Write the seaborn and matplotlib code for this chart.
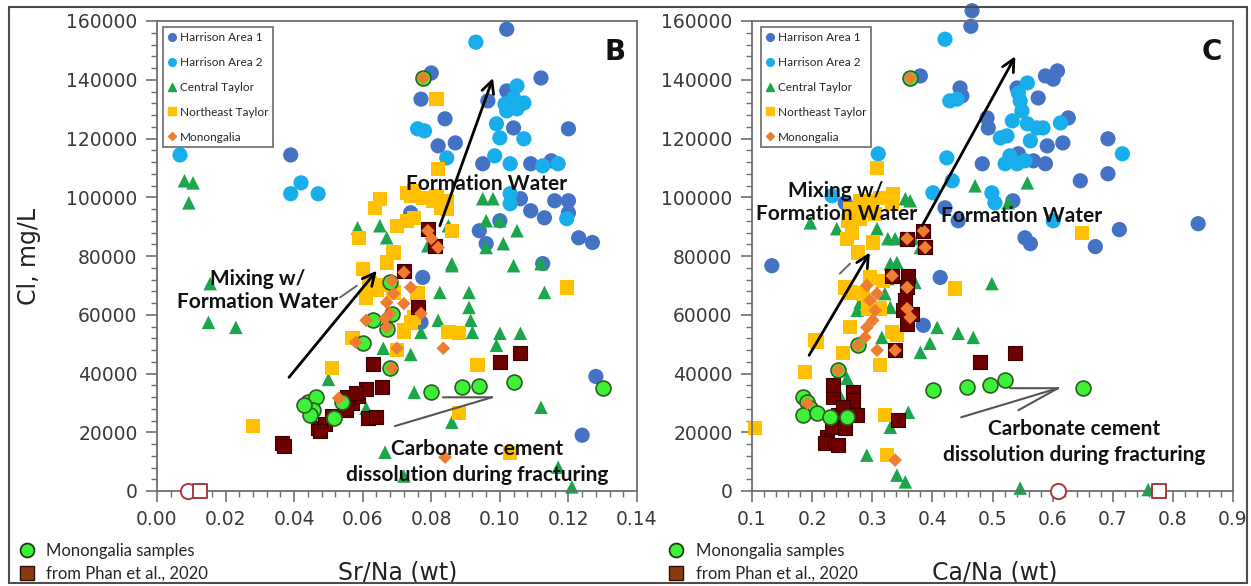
import matplotlib
matplotlib.use("Agg")
import matplotlib.pyplot as plt
from matplotlib.lines import Line2D
from matplotlib.patches import Rectangle
from matplotlib.ticker import MultipleLocator, FormatStrFormatter
from matplotlib.font_manager import FontProperties
import pandas as pd
import seaborn as sns

sns.set_theme(style="white")
plt.rcParams["font.family"] = ["DejaVu Sans"]

# ---------------- Panel B: Sr/Na (wt) vs Cl (mg/L) ----------------
srna_harrison1 = [(0.039, 114400), (0.102, 157200), (0.080, 142300), (0.077, 133400), (0.084, 126700),
                  (0.082, 117500), (0.087, 118500), (0.095, 111400), (0.104, 123600), (0.102, 136200),
                  (0.112, 140600), (0.120, 123300), (0.0965, 132800), (0.109, 111400), (0.115, 112400),
                  (0.106, 99500), (0.109, 95400), (0.113, 93000), (0.116, 98800), (0.120, 98800),
                  (0.120, 94700), (0.123, 86200), (0.127, 84600), (0.094, 88600), (0.096, 84200),
                  (0.100, 92000), (0.1125, 77400), (0.0775, 72700), (0.128, 39000), (0.124, 19000),
                  (0.077, 57400), (0.074, 94700)]
srna_harrison2 = [(0.0067, 114400), (0.039, 101200), (0.042, 104900), (0.047, 101200), (0.093, 152800),
                  (0.105, 137900), (0.104, 133800), (0.107, 132100), (0.1015, 131700), (0.102, 129400),
                  (0.105, 130100), (0.099, 125000), (0.100, 120200), (0.0985, 114100), (0.103, 111400),
                  (0.107, 119900), (0.1125, 110700), (0.117, 111400), (0.103, 101200), (0.103, 97800),
                  (0.1195, 92700), (0.076, 123300), (0.078, 122600), (0.0845, 113400)]
srna_central_taylor = [(0.008, 105600), (0.0105, 104900), (0.0093, 98100), (0.0155, 70600), (0.015, 57400),
                       (0.023, 55700), (0.095, 99500), (0.098, 99500), (0.096, 92000), (0.100, 92000),
                       (0.105, 88600), (0.096, 82900), (0.101, 84200), (0.086, 77400), (0.104, 76700),
                       (0.112, 77400), (0.0825, 67600), (0.091, 67600), (0.113, 67600), (0.065, 90300),
                       (0.067, 86200), (0.0585, 89600), (0.079, 83500), (0.085, 90300), (0.086, 76700),
                       (0.091, 62500), (0.0915, 58100), (0.092, 54000), (0.082, 58100), (0.077, 54000),
                       (0.074, 46500), (0.066, 48600), (0.061, 28200), (0.050, 38000), (0.075, 33600),
                       (0.086, 23400), (0.100, 53700), (0.099, 49600), (0.106, 53700), (0.112, 28500),
                       (0.0665, 13200), (0.072, 5100), (0.117, 8100), (0.121, 1400)]
srna_ne_taylor = [(0.028, 22100), (0.0815, 133400), (0.082, 109700), (0.073, 101500), (0.075, 102200),
                  (0.065, 99500), (0.0635, 96400), (0.0845, 98800), (0.0845, 96100), (0.0805, 98800),
                  (0.070, 90300), (0.073, 92000), (0.075, 93000), (0.059, 86200), (0.086, 88600),
                  (0.069, 81200), (0.067, 77800), (0.060, 75700), (0.1195, 69300), (0.062, 70600),
                  (0.061, 65900), (0.064, 68300), (0.074, 100500), (0.0775, 99800), (0.0815, 100500),
                  (0.083, 96400), (0.076, 67200), (0.072, 54000), (0.075, 59100), (0.085, 54000),
                  (0.088, 53700), (0.057, 52000), (0.051, 41800), (0.070, 47900), (0.072, 54700),
                  (0.074, 57400), (0.0935, 42800), (0.088, 26500), (0.103, 12900), (0.065, 70000),
                  (0.069, 67600)]
srna_phan = [(0.0365, 16300), (0.037, 15300), (0.047, 21400), (0.049, 22800), (0.051, 25500),
             (0.055, 27500), (0.057, 29900), (0.0585, 32300), (0.061, 34600), (0.0655, 35300),
             (0.0555, 31900), (0.058, 33300), (0.055, 28200), (0.0615, 24800), (0.064, 25100),
             (0.063, 43100), (0.0475, 20400), (0.100, 43800), (0.106, 46900), (0.079, 89300),
             (0.081, 83500), (0.072, 75000), (0.076, 62500)]
srna_mon_samples = [(0.044, 30200), (0.0465, 31900), (0.0455, 27500), (0.0445, 25800), (0.043, 29200),
                    (0.0515, 24800), (0.054, 30200), (0.060, 50300), (0.063, 58100), (0.067, 55300),
                    (0.068, 41800), (0.0685, 60400), (0.068, 71000), (0.080, 33600), (0.089, 35300),
                    (0.094, 35700), (0.104, 37000), (0.130, 35000), (0.0776, 140600)]
srna_monongalia = [(0.0776, 140600), (0.079, 88600), (0.080, 85900), (0.082, 82900), (0.072, 74400),
                   (0.0685, 71600), (0.074, 69300), (0.069, 67200), (0.067, 64200), (0.072, 63800),
                   (0.077, 60400), (0.061, 58100), (0.0665, 58700), (0.068, 60400), (0.067, 55700),
                   (0.058, 50600), (0.070, 48600), (0.0685, 41800), (0.0835, 48600), (0.053, 31600),
                   (0.084, 11500)]
srna_open_circle = [(0.009, 0)]
srna_open_square = [(0.0125, 0)]

# ---------------- Panel C: Ca/Na (wt) vs Cl (mg/L) ----------------
cana_harrison1 = [(0.466, 163500), (0.464, 158200), (0.446, 137200), (0.449, 134500), (0.491, 127000),
                  (0.493, 123600), (0.541, 137200), (0.588, 141300), (0.608, 143000), (0.601, 140200),
                  (0.576, 133800), (0.626, 127000), (0.617, 118500), (0.591, 117500), (0.692, 119900),
                  (0.483, 111400), (0.568, 112400), (0.588, 111400), (0.543, 114800), (0.646, 105600),
                  (0.692, 108000), (0.711, 89000), (0.671, 83200), (0.554, 86200), (0.563, 84200),
                  (0.842, 91000), (0.421, 96400), (0.443, 92000), (0.413, 72700), (0.534, 98800),
                  (0.380, 141300), (0.133, 76700), (0.385, 56400), (0.255, 98100)]
cana_harrison2 = [(0.421, 153800), (0.429, 132800), (0.310, 114800), (0.233, 100500), (0.401, 101500),
                  (0.424, 113400), (0.433, 105600), (0.441, 133400), (0.558, 138900), (0.543, 135500),
                  (0.546, 132800), (0.549, 129400), (0.533, 126000), (0.558, 125000), (0.574, 123600),
                  (0.584, 123600), (0.613, 125300), (0.513, 120200), (0.524, 120900), (0.529, 114100),
                  (0.521, 111400), (0.541, 111400), (0.554, 112400), (0.716, 114800), (0.499, 101500),
                  (0.504, 98100), (0.601, 92000), (0.563, 119200)]
cana_central_taylor = [(0.471, 103900), (0.558, 104900), (0.526, 98100), (0.499, 70600), (0.197, 91300),
                       (0.355, 99500), (0.363, 98800), (0.241, 89300), (0.308, 89300), (0.326, 85900),
                       (0.338, 85900), (0.350, 86200), (0.368, 85900), (0.380, 82900), (0.330, 77400),
                       (0.341, 77800), (0.326, 72300), (0.371, 71000), (0.360, 72700), (0.408, 55700),
                       (0.396, 50300), (0.380, 47200), (0.291, 12200), (0.341, 5400), (0.355, 3100),
                       (0.360, 26800), (0.330, 21700), (0.258, 38400), (0.246, 32600), (0.241, 26500),
                       (0.316, 52300), (0.280, 64200), (0.275, 61500), (0.443, 53700), (0.468, 52300),
                       (0.546, 1000), (0.759, 500), (0.321, 67200), (0.330, 62500), (0.285, 65900)]
cana_ne_taylor = [(0.308, 110000), (0.280, 98800), (0.296, 98800), (0.313, 99800), (0.335, 101200),
                  (0.333, 97800), (0.293, 97100), (0.263, 96100), (0.285, 95400), (0.305, 94400),
                  (0.260, 92000), (0.280, 92700), (0.266, 87900), (0.301, 84600), (0.258, 85900),
                  (0.276, 81200), (0.255, 69300), (0.263, 67600), (0.296, 72700), (0.318, 71600),
                  (0.285, 67200), (0.205, 51300), (0.333, 54000), (0.341, 53000), (0.313, 62100),
                  (0.188, 40400), (0.208, 50600), (0.251, 46900), (0.263, 55700), (0.313, 42800),
                  (0.321, 25800), (0.325, 12200), (0.105, 21400), (0.649, 87900), (0.438, 68900),
                  (0.293, 62100)]
cana_phan = [(0.235, 31900), (0.268, 33600), (0.275, 25800), (0.268, 30900), (0.243, 25800),
             (0.225, 18300), (0.221, 16300), (0.243, 15600), (0.233, 21700), (0.255, 21400),
             (0.343, 24100), (0.235, 36000), (0.251, 28500), (0.479, 43800), (0.538, 46900),
             (0.358, 85900), (0.385, 88600), (0.388, 82900), (0.333, 73300), (0.360, 73300),
             (0.358, 69300), (0.355, 64900), (0.351, 61500), (0.366, 60400), (0.358, 57000),
             (0.338, 47900)]
cana_mon_samples = [(0.185, 31900), (0.192, 30200), (0.197, 28200), (0.185, 25800), (0.208, 26500),
                    (0.230, 25100), (0.258, 25100), (0.243, 41100), (0.276, 49600), (0.401, 34300),
                    (0.458, 35300), (0.496, 36000), (0.521, 37700), (0.651, 35000), (0.363, 140600)]
cana_monongalia = [(0.363, 140600), (0.358, 85900), (0.385, 88600), (0.388, 82900), (0.333, 73300),
                   (0.358, 69300), (0.291, 70000), (0.308, 67200), (0.305, 61500), (0.301, 58100),
                   (0.291, 55700), (0.288, 52300), (0.358, 62100), (0.363, 59100), (0.276, 49600),
                   (0.308, 47900), (0.338, 47900), (0.192, 29900), (0.243, 41100), (0.338, 10500),
                   (0.296, 64900)]
cana_open_circle = [(0.609, 0)]
cana_open_square = [(0.777, 0)]

region_labels = ["Harrison Area 1", "Harrison Area 2", "Central Taylor", "Northeast Taylor", "Monongalia"]
sample_labels = ["Monongalia samples", "from Phan et al., 2020"]
y_ticks = [0, 20000, 40000, 60000, 80000, 100000, 120000, 140000, 160000]

# marker styling per series
STYLE = {
    "Harrison Area 1": dict(marker="o", color="#4472C4", edgecolor="none", linewidth=0, s=120, z=2),
    "Harrison Area 2": dict(marker="o", color="#17AEEB", edgecolor="none", linewidth=0, s=120, z=2.1),
    "Central Taylor": dict(marker="^", color="#1CA64C", edgecolor="none", linewidth=0, s=95, z=2.2),
    "Northeast Taylor": dict(marker="s", color="#FFC000", edgecolor="none", linewidth=0, s=105, z=2.3),
    "phan": dict(marker="s", color="#6E0000", edgecolor="#3A0000", linewidth=0.8, s=95, z=2.4),
    "samples": dict(marker="o", color="#3DF03A", edgecolor="#2C5F1E", linewidth=1.2, s=115, z=2.5),
    "Monongalia": dict(marker="D", color="#ED7D31", edgecolor="none", linewidth=0, s=48, z=2.6),
    "open_circle": dict(marker="o", color="white", edgecolor="#A83A3A", linewidth=1.4, s=120, z=2.7),
    "open_square": dict(marker="s", color="white", edgecolor="#A83A3A", linewidth=1.4, s=100, z=2.7),
}

ANNOT_FONT = "Lato"


def scatter(ax, pts, key):
    st = STYLE[key]
    df = pd.DataFrame(pts, columns=["x", "y"])
    sns.scatterplot(data=df, x="x", y="y", ax=ax, marker=st["marker"], color=st["color"],
                    edgecolor=st["edgecolor"], linewidth=st["linewidth"], s=st["s"],
                    legend=False, zorder=st["z"], clip_on=False)


def style_axes(ax, xlim, xmajor, xminor, xfmt, letter):
    ax.set_xlim(*xlim)
    ax.set_ylim(0, 160000)
    ax.set_yticks(y_ticks)
    ax.yaxis.set_minor_locator(MultipleLocator(4000))
    ax.xaxis.set_major_locator(MultipleLocator(xmajor))
    ax.xaxis.set_minor_locator(MultipleLocator(xminor))
    ax.xaxis.set_major_formatter(FormatStrFormatter(xfmt))
    ax.yaxis.set_major_formatter(FormatStrFormatter("%d"))
    for sp in ax.spines.values():
        sp.set_visible(True)
        sp.set_color("#6E6E6E")
        sp.set_linewidth(1.3)
    ax.tick_params(which="major", direction="out", length=8, width=1.2, color="#6E6E6E",
                   labelsize=13.5, labelcolor="#3A3A3A", pad=6, bottom=True, left=True)
    ax.tick_params(which="minor", direction="out", length=4.5, width=1.0, color="#6E6E6E",
                   bottom=True, left=True)
    ax.set_xlabel("")
    ax.set_ylabel("")
    ax.text(0.955, 0.935, letter, transform=ax.transAxes, fontsize=20, fontweight="bold",
            ha="center", va="center", color="#111111")


def region_legend(ax, x0):
    handles = [
        Line2D([], [], ls="", marker="o", markersize=5.5, color=STYLE["Harrison Area 1"]["color"]),
        Line2D([], [], ls="", marker="o", markersize=5.5, color=STYLE["Harrison Area 2"]["color"]),
        Line2D([], [], ls="", marker="^", markersize=5.5, color=STYLE["Central Taylor"]["color"]),
        Line2D([], [], ls="", marker="s", markersize=5.5, color=STYLE["Northeast Taylor"]["color"]),
        Line2D([], [], ls="", marker="D", markersize=3.8, color=STYLE["Monongalia"]["color"]),
    ]
    leg = ax.legend(handles, region_labels, loc="upper left", bbox_to_anchor=(x0, 0.987),
                    borderaxespad=0, frameon=True, fancybox=False, framealpha=1,
                    edgecolor="#7F7F7F", prop=FontProperties(family=ANNOT_FONT, size=8.5),
                    handlelength=0.7, handletextpad=0.3, labelspacing=1.18, borderpad=0.4)
    leg.get_frame().set_linewidth(1.4)
    leg.set_zorder(10)


def arrow(ax, start, end, color="black", lw=2.0, head=True):
    ax.annotate("", xy=end, xytext=start,
                arrowprops=dict(arrowstyle="->" if head else "-", color=color, lw=lw,
                                mutation_scale=22, shrinkA=0, shrinkB=0),
                zorder=6)


fig = plt.figure(figsize=(12.51, 5.86), dpi=100)
axB = fig.add_axes([157 / 1251, 1 - 491 / 586, 480 / 1251, 470 / 586])
axC = fig.add_axes([752 / 1251, 1 - 491 / 586, 481 / 1251, 470 / 586])

panels = [
    (axB, dict(h1=srna_harrison1, h2=srna_harrison2, ct=srna_central_taylor, ne=srna_ne_taylor,
               ph=srna_phan, ms=srna_mon_samples, mo=srna_monongalia,
               oc=srna_open_circle, os=srna_open_square)),
    (axC, dict(h1=cana_harrison1, h2=cana_harrison2, ct=cana_central_taylor, ne=cana_ne_taylor,
               ph=cana_phan, ms=cana_mon_samples, mo=cana_monongalia,
               oc=cana_open_circle, os=cana_open_square)),
]
for ax, d in panels:
    scatter(ax, d["h1"], "Harrison Area 1")
    scatter(ax, d["h2"], "Harrison Area 2")
    scatter(ax, d["ct"], "Central Taylor")
    scatter(ax, d["ne"], "Northeast Taylor")
    scatter(ax, d["ph"], "phan")
    scatter(ax, d["ms"], "samples")
    scatter(ax, d["mo"], "Monongalia")
    scatter(ax, d["oc"], "open_circle")
    scatter(ax, d["os"], "open_square")

style_axes(axB, (0, 0.14), 0.02, 0.004, "%.2f", "B")
style_axes(axC, (0.1, 0.9), 0.1, 0.02, "%.1f", "C")
region_legend(axB, 0.0125)
region_legend(axC, 0.019)

# axis titles
axB.set_ylabel("Cl, mg/L", fontsize=17, color="#222222")
axB.yaxis.set_label_coords(-0.267, 0.5)
axB.yaxis.label.set_va("center")
axB.set_xlabel("Sr/Na (wt)", fontsize=17, color="#222222", va="center")
axB.xaxis.set_label_coords(0.502, -0.174)
axC.set_xlabel("Ca/Na (wt)", fontsize=17, color="#222222", va="center")
axC.xaxis.set_label_coords(0.505, -0.174)

# panel B annotations
txt_kw = dict(family=ANNOT_FONT, fontweight="bold", color="#111111", ha="center", va="center", zorder=7)
axB.text(0.0962, 104600, "Formation Water", fontsize=15, **txt_kw)
axB.text(0.0294, 68300, "Mixing w/\nFormation Water", fontsize=15, linespacing=1.2, **txt_kw)
axB.text(0.0933, 9800, "Carbonate cement\ndissolution during fracturing", fontsize=15,
         linespacing=1.4, **txt_kw)
arrow(axB, (0.0385, 38700), (0.0641, 75000))
arrow(axB, (0.0825, 90300), (0.0980, 140600))
arrow(axB, (0.0534, 65900), (0.0583, 69900), color="#666666", lw=1.4, head=False)
arrow(axB, (0.0834, 31900), (0.0977, 31900), color="#555555", lw=1.5, head=False)
arrow(axB, (0.0694, 22100), (0.0977, 31900), color="#555555", lw=1.5, head=False)

# panel C annotations
axC.text(0.549, 93700, "Formation Water", fontsize=15, **txt_kw)
axC.text(0.240, 98100, "Mixing w/\nFormation Water", fontsize=15, linespacing=1.2, **txt_kw)
axC.text(0.636, 16600, "Carbonate cement\ndissolution during fracturing", fontsize=15,
         linespacing=1.4, **txt_kw)
arrow(axC, (0.195, 46200), (0.296, 81200))
arrow(axC, (0.383, 90300), (0.538, 148000))
arrow(axC, (0.246, 74000), (0.263, 77400), color="#666666", lw=1.4, head=False)
arrow(axC, (0.529, 35000), (0.609, 35000), color="#555555", lw=1.5, head=False)
arrow(axC, (0.448, 25100), (0.609, 35000), color="#555555", lw=1.5, head=False)
arrow(axC, (0.543, 27500), (0.609, 35000), color="#555555", lw=1.5, head=False)

# sample-source keys under each panel
sample_handles = [
    Line2D([], [], ls="", marker="o", markersize=10, markerfacecolor="#3DF03A",
           markeredgecolor="#1E3A12", markeredgewidth=1.3),
    Line2D([], [], ls="", marker="s", markersize=9.5, markerfacecolor="#8B3A12",
           markeredgecolor="#2A1005", markeredgewidth=1.0),
]
for x0 in (19 / 1251, 668 / 1251):
    fig.legend(sample_handles, sample_labels, loc="upper left", bbox_to_anchor=(x0, 1 - 543 / 586),
               frameon=False, prop=FontProperties(family=ANNOT_FONT, size=12),
               handlelength=1.0, handletextpad=0.65, labelspacing=0.4, borderpad=0, borderaxespad=0)

# outer frame
fig.add_artist(Rectangle((9 / 1251, 1 - 583 / 586), 1238 / 1251, 576 / 586, transform=fig.transFigure,
                         fill=False, edgecolor="#4D4D4D", linewidth=1.5))

fig.savefig("out.png", dpi=100)
